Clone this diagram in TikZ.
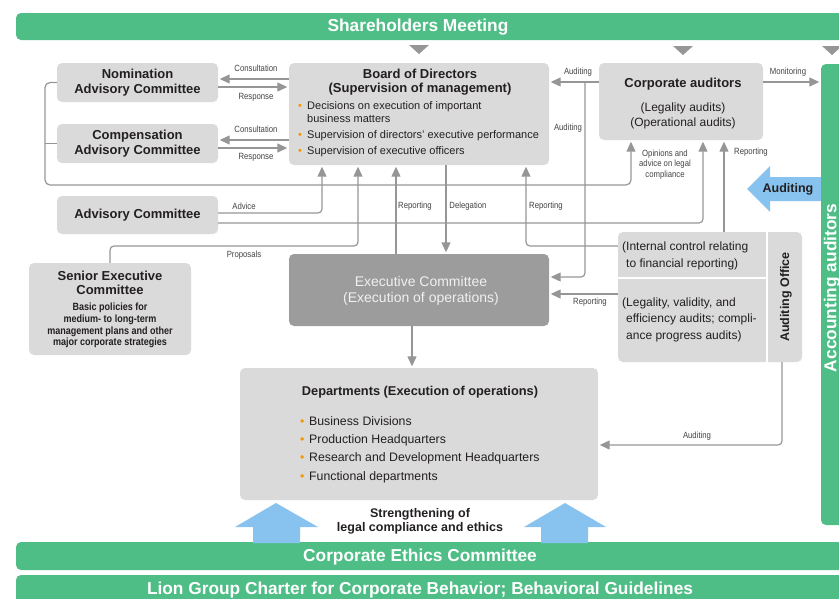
\documentclass[tikz,border=0pt]{standalone}
\usepackage{fontspec}
\setmainfont{Liberation Sans}
\newfontfamily\condf[FakeStretch=0.86]{Liberation Sans}
\usetikzlibrary{arrows.meta}
\definecolor{grn}{RGB}{78,190,134}
\definecolor{bgray}{RGB}{218,218,218}
\definecolor{dgray}{RGB}{156,156,156}
\definecolor{lgray}{RGB}{150,150,150}
\definecolor{bblue}{RGB}{136,195,239}
\definecolor{orng}{RGB}{243,152,0}
\definecolor{txt}{RGB}{35,31,32}
\newcommand\bul{\makebox[9pt][l]{\textcolor{orng}{\char"2022}}}
\begin{document}
\begin{tikzpicture}[x=1pt,y=-1pt,
  box/.style={fill=bgray, rounded corners=5pt, inner sep=0pt},
  ttl/.style={font=\fontsize{13}{14.5}\selectfont\bfseries, text=txt, align=center},
  body/.style={font=\fontsize{11}{13}\selectfont, text=txt, align=left, inner sep=0pt},
  dbody/.style={font=\fontsize{12.3}{14}\selectfont, text=txt, align=left, inner sep=0pt},
  lbl/.style={font=\condf\fontsize{9}{10.5}\selectfont, text=txt!85, align=center, inner sep=0pt},
  bartext/.style={font=\fontsize{17.3}{20}\selectfont\bfseries, text=white, inner sep=0pt},
  arr/.style={draw=lgray, line width=1.2pt, -{Triangle[length=10pt,width=9pt]}, shorten >=1.5pt},
  ln/.style={draw=lgray, line width=1.2pt},
  emptybox/.style={inner sep=0pt}
]
\useasboundingbox (0,0) rectangle (839,598);
\clip (0,0) rectangle (839,598);

% green bars
\fill[grn, rounded corners=5pt] (16,13) rectangle (880,40);
\node[bartext] (shtext) at (418,27) {Shareholders Meeting};
\fill[grn, rounded corners=5pt] (16,542) rectangle (880,570);
\node[bartext] (cetext) at (420,557) {Corporate Ethics Committee};
\fill[grn, rounded corners=5pt] (16,575) rectangle (880,612);
\node[bartext] (lgtext) at (420,590) {Lion Group Charter for Corporate Behavior; Behavioral Guidelines};

% triangles under shareholders meeting
\fill[lgray] (409,45) -- (429,45) -- (419,54) -- cycle;
\fill[lgray] (673,46) -- (693,46) -- (683,55) -- cycle;
\fill[lgray] (822,46) -- (842,46) -- (832,55) -- cycle;

% blue auditing arrow
\fill[bblue] (747,189) -- (770,166) -- (770,177) -- (825,177) -- (825,201) -- (770,201) -- (770,212) -- cycle;
\node[font=\fontsize{12.5}{14}\selectfont\bfseries, text=txt] (audtxt) at (788,189) {Auditing};

% accounting auditors
\node[fill=grn, rounded corners=5pt, minimum width=50, minimum height=461, inner sep=0pt] (acc) at (846,294.5) {};
\node[bartext, rotate=90] (acctext) at (832,288) {Accounting auditors};

% blue up arrows
\fill[bblue] (276,503) -- (318,527) -- (300,527) -- (300,543) -- (253,543) -- (253,527) -- (235,527) -- cycle;
\fill[bblue] (565,503) -- (606,527) -- (588,527) -- (588,543) -- (541,543) -- (541,527) -- (524,527) -- cycle;
\node[font=\fontsize{12.5}{14}\selectfont\bfseries, text=txt, align=center] (str) at (420,521) {Strengthening of\\legal compliance and ethics};

% boxes
\node[box, ttl, minimum width=161, minimum height=39] (nom) at (137.5,82.5) {Nomination\\Advisory Committee};
\node[box, ttl, minimum width=161, minimum height=39] (comp) at (137.5,143.5) {Compensation\\Advisory Committee};
\node[box, ttl, minimum width=161, minimum height=38] (adv) at (137.5,215) {Advisory Committee};

\node[box, minimum width=260, minimum height=102] (board) at (419,114) {};
\node[ttl] (boardt) at (420,82) {Board of Directors\\(Supervision of management)};
\node[body, anchor=mid west] (b1) at (298,107) {\bul Decisions on execution of important};
\node[body, anchor=mid west] (b1b) at (307,119.5) {business matters};
\node[body, anchor=mid west] (b2) at (298,136) {\bul Supervision of directors{\char"0027} executive performance};
\node[body, anchor=mid west] (b3) at (298,152) {\bul Supervision of executive officers};

\node[box, minimum width=164, minimum height=77] (corp) at (681,101.5) {};
\node[ttl] (corpt) at (683,84) {Corporate auditors};
\node[font=\fontsize{12}{15}\selectfont, text=txt, align=center] (corps) at (683,115.5) {(Legality audits)\\(Operational audits)};

\node[box, minimum width=162, minimum height=92] (sec) at (110,309) {};
\node[ttl] (sect) at (110,283) {Senior Executive\\Committee};
\node[font=\condf\bfseries\fontsize{10.5}{11.7}\selectfont, text=txt, align=center] (secb) at (110,325.5) {Basic policies for\\medium- to long-term\\management plans and other\\major corporate strategies};

\node[fill=dgray, rounded corners=5pt, minimum width=260, minimum height=72, inner sep=0pt] (exec) at (419,290) {};
\node[font=\fontsize{14}{16}\selectfont, text=white!94!black, align=center] (exect) at (421,291) {Executive Committee\\(Execution of operations)};

% auditing office group
\fill[bgray, rounded corners=5pt] (618,232) rectangle (802,362);
\draw[white, line width=2pt] (767,228) -- (767,366);
\draw[white, line width=2pt] (614,278) -- (767,278);
\node[emptybox, minimum width=148, minimum height=45] (ic) at (692,254.5) {};
\node[emptybox, minimum width=148, minimum height=83] (la) at (692,320.5) {};
\node[emptybox, minimum width=34, minimum height=130] (ao) at (785,297) {};
\node[font=\fontsize{12}{16.5}\selectfont, text=txt, align=left, anchor=west, inner sep=0pt] (ict) at (622,256) {(Internal control relating\\\hspace*{4pt}to financial reporting)};
\node[font=\fontsize{12}{16.5}\selectfont, text=txt, align=left, anchor=west, inner sep=0pt] (lat) at (622,319.5) {(Legality, validity, and\\\hspace*{4pt}efficiency audits; compli-\\\hspace*{4pt}ance progress audits)};
\node[font=\fontsize{12.5}{14}\selectfont\bfseries, text=txt, rotate=90] (aot) at (786,297) {Auditing Office};

\node[box, minimum width=358, minimum height=132] (dept) at (419,434) {};
\node[font=\fontsize{12.8}{15}\selectfont\bfseries, text=txt] (deptt) at (420,392) {Departments (Execution of operations)};
\node[dbody, anchor=mid west] (d1) at (300,423) {\bul Business Divisions};
\node[dbody, anchor=mid west] (d2) at (300,441) {\bul Production Headquarters};
\node[dbody, anchor=mid west] (d3) at (300,459) {\bul Research and Development Headquarters};
\node[dbody, anchor=mid west] (d4) at (300,478) {\bul Functional departments};

% connectors
\draw[arr] (board.west |- 0,79) -- (nom.east |- 0,79);
\draw[arr] (nom.east |- 0,87) -- (board.west |- 0,87);
\draw[arr] (board.west |- 0,140) -- (comp.east |- 0,140);
\draw[arr] (comp.east |- 0,148) -- (board.west |- 0,148);
\node[lbl] (lc1) at (256,68) {Consultation};
\node[lbl] (lr1) at (256,97) {Response};
\node[lbl] (lc2) at (256,129) {Consultation};
\node[lbl] (lr2) at (256,157) {Response};

\draw[arr, rounded corners=5pt] (nom.west) -- (45,82.5) -- (45,185) -- (631,185) -- (corp.south -| 631,0);
\draw[ln] (comp.west) -- (45,143.5);
\node[lbl] (lop) at (665,164.5) {Opinions and\\advice on legal\\compliance};

\draw[arr, rounded corners=4pt] (adv.east |- 0,213) -- (322,213) -- (board.south -| 322,0);
\node[lbl] (ladv) at (244,206) {Advice};
\draw[arr, rounded corners=4pt] (adv.east |- 0,223) -- (703,223) -- (corp.south -| 703,0);

\draw[arr, rounded corners=4pt] (sec.north) -- (sec.north |- 0,246) -- (358,246) -- (board.south -| 358,0);
\node[lbl] (lprop) at (244,255) {Proposals};

\draw[arr] (exec.north -| 396,0) -- (board.south -| 396,0);
\node[lbl] (lrep1) at (415,206) {Reporting};
\draw[arr] (board.south -| 446,0) -- (exec.north -| 446,0);
\node[lbl] (ldel) at (468,206) {Delegation};
\draw[arr, rounded corners=4pt] (ic.west |- 0,246) -- (526,246) -- (board.south -| 526,0);
\node[lbl] (lrep2) at (546,206) {Reporting};

\draw[arr] (corp.west |- 0,82) -- (board.east |- 0,82);
\node[lbl] (laud1) at (578,72) {Auditing};
\coordinate (audc) at (585,82);
\draw[arr, rounded corners=4pt] (audc) -- (585,277) -- (exec.east |- 0,277);
\node[lbl] (laud2) at (568,128) {Auditing};

\draw[arr] (corp.east |- 0,82) -- (acc.west |- 0,82);
\node[lbl] (lmon) at (788,72) {Monitoring};

\draw[arr] (ic.north -| 724,0) -- (corp.south -| 724,0);
\node[lbl] (lrep3) at (751,152) {Reporting};

\draw[arr] (la.west |- 0,294) -- (exec.east |- 0,294);
\node[lbl] (lrep4) at (590,302) {Reporting};

\draw[arr] (exec.south -| 412,0) -- (dept.north -| 412,0);

\draw[arr, rounded corners=4pt] (ao.south -| 782,0) -- (782,445) -- (dept.east |- 0,445);
\node[lbl] (laud3) at (697,436) {Auditing};
\end{tikzpicture}
\end{document}
